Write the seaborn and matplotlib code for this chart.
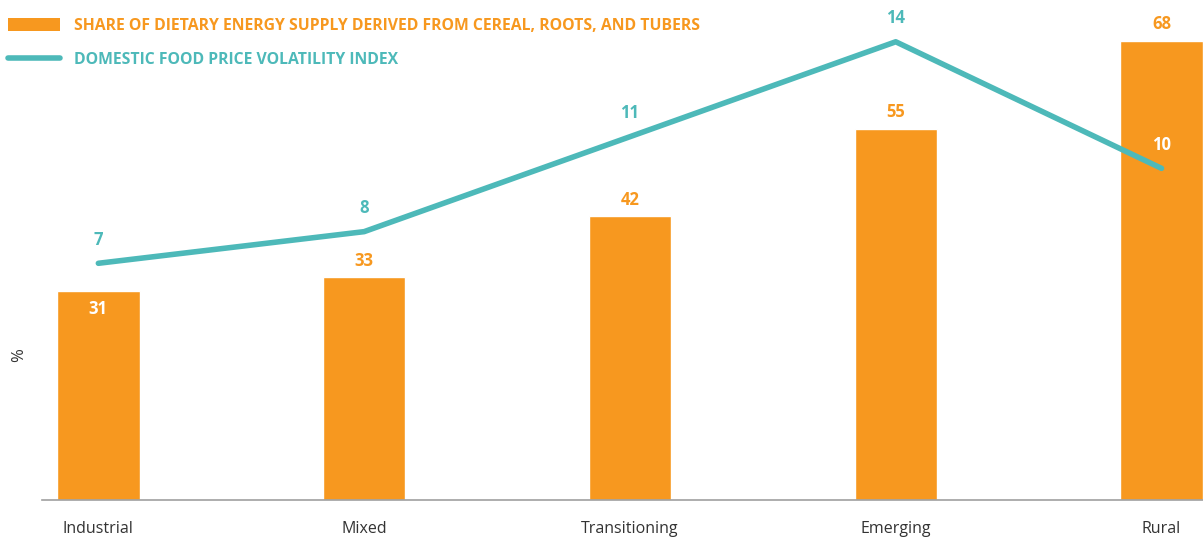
import matplotlib
matplotlib.use("Agg")
import matplotlib.pyplot as plt
import seaborn as sns
import pandas as pd
from matplotlib.patches import Patch
from matplotlib.lines import Line2D

categories = ["Industrial", "Mixed", "Transitioning", "Emerging", "Rural"]
share_values = [31, 33, 42, 55, 68]
volatility_values = [7, 8, 11, 14, 10]
bar_label_label = "SHARE OF DIETARY ENERGY SUPPLY DERIVED FROM CEREAL, ROOTS, AND TUBERS"
line_label = "DOMESTIC FOOD PRICE VOLATILITY INDEX"

ORANGE = "#F7981F"
TEAL = "#4DB9B9"

sns.set_theme(style="white")
plt.rcParams["font.family"] = ["Open Sans", "DejaVu Sans"]

df = pd.DataFrame({"cat": categories, "share": share_values, "vol": volatility_values})

fig = plt.figure(figsize=(12.03, 5.37), dpi=100)
ax = fig.add_axes([42 / 1203, 37 / 537, 1161 / 1203, 500 / 537])

sns.barplot(data=df, x="cat", y="share", color=ORANGE, saturation=1, width=0.31, ax=ax)
ax.set_xlim(-0.212, 4.156)
ax.set_ylim(0, 74.07)

ax2 = ax.twinx()
sns.lineplot(x=list(range(len(categories))), y=df["vol"], color=TEAL, lw=4,
             solid_capstyle="round", ax=ax2)
ax2.set_ylim(-0.48, 15.32)
ax2.set_xlim(-0.212, 4.156)
ax2.axis("off")

for s in ["top", "right", "left"]:
    ax.spines[s].set_visible(False)
ax.spines["bottom"].set_color("#A0A0A0")
ax.spines["bottom"].set_linewidth(1.2)
ax.set_yticks([])
ax.set_xlabel("")
ax.set_ylabel("%", fontsize=12, color="#333333")
ax.yaxis.set_label_coords(-0.013, 0.29)
ax.tick_params(axis="x", length=0, pad=15, labelsize=11.5, colors="#333333")

# bar value labels
for i, v in enumerate(share_values):
    if i == 0:
        ax.annotate(str(v), (i, v), xytext=(0, -13), textcoords="offset points",
                    ha="center", va="center", color="white", fontsize=12, fontweight="bold")
    else:
        ax.annotate(str(v), (i, v), xytext=(0, 12), textcoords="offset points",
                    ha="center", va="center", color=ORANGE, fontsize=12, fontweight="bold")

# line value labels
for i, v in enumerate(volatility_values):
    col = "white" if i == len(volatility_values) - 1 else TEAL
    ax2.annotate(str(v), (i, v), xytext=(0, 17), textcoords="offset points",
                 ha="center", va="center", color=col, fontsize=12, fontweight="bold")

handles = [Patch(facecolor=ORANGE, edgecolor="none"),
           Line2D([0], [0], color=TEAL, lw=4, solid_capstyle="round")]
leg = fig.legend(handles, [bar_label_label, line_label], loc="upper left",
                 bbox_to_anchor=(0.007, 0.967), frameon=False, fontsize=11.3,
                 handlelength=3.3, handleheight=0.9, handletextpad=0.85,
                 labelspacing=1.15, borderaxespad=0, borderpad=0)
for t, c in zip(leg.get_texts(), [ORANGE, TEAL]):
    t.set_color(c)
    t.set_fontweight("bold")

fig.savefig("out.png", dpi=100)
